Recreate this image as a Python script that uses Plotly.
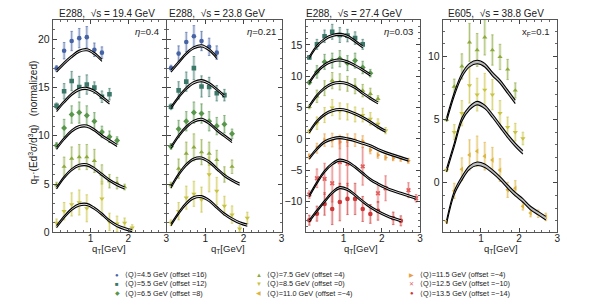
import plotly.graph_objects as go

# ---------------- data ----------------
QT_BINS = [0.1, 0.3, 0.5, 0.7, 0.9, 1.1, 1.3, 1.5, 1.7, 1.9, 2.1, 2.3, 2.5, 2.7, 2.9]
X_TICKS = [1, 2, 3]
Y_TICKS_P12 = [0, 5, 10, 15, 20]
Y_TICKS_P3 = [-10, -5, 0, 5, 10, 15]
Y_TICKS_P4 = [0, 5, 10]

PANEL_TITLES = ["E288,  √s = 19.4 GeV", "E288,  √s = 23.8 GeV",
                "E288,  √s = 27.4 GeV", "E605,  √s = 38.8 GeV"]
PANEL_LABELS = ["<i>η</i>=0.4", "<i>η</i>=0.21", "<i>η</i>=0.03", "x<sub>F</sub>=0.1"]

SERIES_KEYS = ["4.5", "5.5", "6.5", "7.5", "8.5", "11.0", "11.5", "12.5", "13.5"]
LEGEND_LABELS = ["⟨Q⟩=4.5 GeV (offset =16)", "⟨Q⟩=5.5 GeV (offset =12)",
                 "⟨Q⟩=6.5 GeV (offset =8)", "⟨Q⟩=7.5 GeV (offset =4)",
                 "⟨Q⟩=8.5 GeV (offset =0)", "⟨Q⟩=11.0 GeV (offset =−4)",
                 "⟨Q⟩=11.5 GeV (offset =−4)", "⟨Q⟩=12.5 GeV (offset =−10)",
                 "⟨Q⟩=13.5 GeV (offset =−14)"]

# Panel 1: E288 19.4 GeV
p1_q45 = [16.97, 18.8, 19.8, 20.1, 20.2, 18.9, 18.6]
p1_q45_err = [0.3, 0.85, 1.0, 1.0, 1.1, 0.7, 0.6]
p1_q55 = [13.1, 14.6, 15.66, 15.05, 15.3, 14.98, 14.04, 14.3]
p1_q55_err = [0.3, 0.8, 1.0, 1.1, 1.0, 0.6, 0.6, 0.6]
p1_q65 = [9.0, 10.8, 12.2, 12.4, 12.1, 11.5, 10.4, 9.9, 9.5]
p1_q65_err = [0.3, 0.9, 0.9, 1.1, 1.0, 0.9, 0.6, 0.6, 0.4]
p1_q75 = [4.9, 6.8, 7.65, 7.8, 7.8, 7.4, 6.0, 5.3, 5.1, 4.7]
p1_q75_err = [0.3, 1.0, 1.2, 1.3, 1.3, 1.2, 1.0, 0.7, 0.6, 0.3]
p1_q85 = [1.0, 2.2, 2.9, 3.1, 2.5, None, 3.5, 1.1, 0.9, 1.0, 0.5]
p1_q85_err = [0.4, 0.9, 1.2, 1.3, 1.4, 0, 1.8, 0.9, 0.8, 0.5, 0.3]
c1_q45 = [16.7, 17.5, 18.2, 18.75, 18.9, 18.5, 17.8]
c1_q55 = [12.6, 13.5, 14.3, 14.8, 14.9, 14.6, 14.0, 13.4]
c1_q65 = [8.7, 9.7, 10.5, 10.95, 11.0, 10.6, 10.0, 9.5, 9.0]
c1_q75 = [4.6, 5.7, 6.5, 6.95, 7.0, 6.6, 6.0, 5.4, 4.95, 4.6]
c1_q85 = [0.6, 1.6, 2.4, 2.85, 2.9, 2.5, 1.9, 1.2, 0.7, 0.4, 0.2]

# Panel 2: E288 23.8 GeV
p2_q45 = [17.0, 18.5, 19.7, 20.3, 19.8, 19.2, 18.6]
p2_q45_err = [0.3, 0.8, 1.0, 1.1, 1.0, 0.9, 0.7]
p2_q55 = [13.0, 14.7, 15.6, 17.0, 15.1, 15.05, 14.4, 14.2]
p2_q55_err = [0.3, 0.9, 1.0, 1.2, 1.1, 1.0, 0.8, 0.6]
p2_q65 = [8.9, 10.7, 11.5, 12.4, 12.3, 11.5, 11.0, 11.2, 10.2]
p2_q65_err = [0.3, 0.9, 1.0, 1.1, 1.0, 1.0, 0.9, 0.9, 0.5]
p2_q75 = [4.9, 6.6, 8.15, 8.8, 8.3, 8.15, 7.5, 6.0, 6.8]
p2_q75_err = [0.3, 1.0, 1.2, 1.4, 1.3, 1.2, 1.0, 0.8, 0.7]
p2_q85 = [1.0, 2.2, 3.6, 4.0, 3.4, 6.0, 4.3, 2.75, 1.85, 0.4, 1.5]
p2_q85_err = [0.3, 0.9, 1.2, 1.3, 1.3, 1.8, 1.4, 1.0, 0.9, 0.3, 0.6]
c2_q45 = [16.7, 17.6, 18.5, 19.1, 19.3, 18.9, 18.1]
c2_q55 = [12.9, 14.0, 14.9, 15.5, 15.7, 15.4, 14.8, 14.1]
c2_q65 = [8.8, 10.0, 10.9, 11.5, 11.7, 11.3, 10.6, 10.0, 9.4]
c2_q75 = [4.7, 6.0, 7.0, 7.6, 7.7, 7.3, 6.6, 5.9, 5.4, 5.0]
c2_q85 = [0.8, 2.0, 3.0, 3.6, 3.7, 3.3, 2.6, 1.9, 1.4, 1.0, 0.75]

# Panel 3: E288 27.4 GeV
p3_q55 = [13.0, 15.1, 16.4, 17.1, 16.6, 16.5, 16.1, 15.1]
p3_q55_err = [0.3, 0.8, 1.0, 1.2, 1.2, 1.0, 1.0, 0.8]
p3_q65 = [9.0, 10.7, 12.3, 12.5, 12.8, 12.1, 12.5, 11.4, 10.5]
p3_q65_err = [0.3, 1.0, 1.2, 1.2, 1.3, 1.2, 1.2, 1.0, 0.6]
p3_q75 = [5.1, 6.8, 8.1, 9.3, 9.1, 8.8, 8.4, 7.7, 7.2, 6.4]
p3_q75_err = [0.3, 1.0, 1.2, 1.3, 1.3, 1.2, 1.2, 1.0, 0.9, 0.5]
p3_q85 = [1.2, 2.5, 3.8, 5.0, 4.45, 4.3, 3.9, 3.8, 3.2, 2.4, 1.3]
p3_q85_err = [0.3, 1.0, 1.2, 1.3, 1.3, 1.3, 1.2, 1.1, 1.0, 0.8, 0.5]
p3_q115 = [-2.8, -1.5, -0.2, -0.2, -0.5, -0.2, -0.2, -0.4, -1.8, -2.6, -3.0, -3.1, -3.2, -3.5]
p3_q115_err = [0.4, 0.8, 1.0, 1.1, 1.1, 1.0, 1.0, 0.9, 0.6, 0.5, 0.4, 0.4, 0.4, 0.4]
p3_q125 = [-8.9, -6.3, -6.4, -7.1, -3.7, -4.0, None, -4.4, None, -8.7, -7.9, None, None, -8.2, -9.5]
p3_q125_err = [0.6, 1.5, 2.5, 3.0, 4.0, 3.5, 0, 3.0, 0, 1.5, 2.0, 0, 0, 1.2, 0.6]
p3_q135 = [-13.0, -11.95, -10.4, -11.2, -10.1, -9.6, -9.6, -11.2, -12.0, -11.5, None, -12.7, -13.1]
p3_q135_err = [0.8, 1.2, 1.8, 2.5, 3.0, 2.5, 2.5, 2.0, 1.5, 1.5, 0, 1.0, 0.8]
c3_q55 = [13.0, 14.8, 15.9, 16.5, 16.7, 16.4, 15.6, 14.7]
c3_q65 = [9.0, 10.7, 11.8, 12.4, 12.6, 12.3, 11.7, 11.0, 10.2]
c3_q75 = [5.2, 6.9, 8.1, 8.8, 9.0, 8.8, 8.2, 7.3, 6.5, 5.75]
c3_q85 = [1.1, 2.8, 3.9, 4.5, 4.7, 4.5, 4.0, 3.4, 2.7, 1.9, 1.2]
c3_q115 = [-3.1, -1.6, -0.5, 0.0, 0.2, 0.0, -0.3, -0.7, -1.1, -1.7, -2.2, -2.6, -3.0, -3.4]
c3_q125 = [-9.1, -7.0, -5.2, -4.0, -3.4, -3.7, -4.5, -5.5, -6.5, -7.2, -7.8, -8.3, -8.7, -9.1, -9.5]
c3_q135 = [-13.1, -11.5, -10.0, -8.6, -7.8, -8.1, -9.0, -10.0, -10.9, -11.6, -12.2, -12.7, -13.1]

# Panel 4: E605 38.8 GeV
p4_q75 = [5.0, 7.6, 9.2, 11.1, 10.5, 11.5, 10.5, 9.95, 8.96, 7.3]
p4_q75_err = [0.1, 0.6, 1.0, 1.5, 1.3, 1.4, 1.2, 1.0, 0.8, 0.6]
p4_q85 = [1.0, 4.0, 5.5, 7.7, 6.97, 7.35, 6.97, 5.5, 4.4, 4.0, 3.5]
p4_q85_err = [0.1, 0.6, 1.0, 1.4, 1.3, 1.3, 1.2, 1.0, 0.8, 0.7, 0.5]
p4_q110 = [-3.07, -0.64, 1.07, 2.2, 2.5, 2.1, 1.8, 1.0, -0.56, -0.43, -1.86, -2.4, -2.45, -2.7]
p4_q110_err = [0.1, 0.6, 0.9, 1.2, 1.2, 1.1, 1.0, 0.9, 0.6, 0.6, 0.3, 0.3, 0.3, 0.3]
c4_q75 = [5.0, 7.0, 8.5, 9.3, 9.55, 9.3, 8.6, 8.0, 7.2, 6.4]
c4_q85 = [1.0, 3.0, 5.0, 5.9, 6.3, 6.0, 5.3, 4.5, 3.7, 3.0, 2.4]
c4_q110 = [-3.1, -0.8, 0.35, 1.2, 1.5, 1.35, 0.9, 0.35, -0.3, -0.9, -1.4, -2.0, -2.4, -2.8]

# theory band half-widths per panel
BAND_HALF = [0.11, 0.11, 0.16, 0.14]

# ---------------- styles ----------------
COLORS = {"4.5": (70, 100, 165), "5.5": (60, 120, 105), "6.5": (88, 150, 75),
          "7.5": (140, 170, 60), "8.5": (200, 195, 65), "11.0": (220, 180, 65),
          "11.5": (232, 160, 70), "12.5": (225, 95, 95), "13.5": (205, 55, 55)}
SYMBOLS = {"4.5": "circle", "5.5": "square", "6.5": "diamond", "7.5": "triangle-up",
           "8.5": "triangle-down", "11.0": "triangle-left", "11.5": "triangle-right",
           "12.5": "x", "13.5": "circle"}
GLYPHS = {"4.5": "●", "5.5": "■", "6.5": "◆", "7.5": "▲", "8.5": "▼", "11.0": "◀",
          "11.5": "▶", "12.5": "✕", "13.5": "●"}
FONT = "Liberation Sans, Arial, sans-serif"

W, H = 598, 303
X_DOMAINS = [(45, 159), (160, 275), (299, 414), (437, 552)]
Y_DOMAIN = (12, 229)
Y_RANGES = [(0, 22.0), (0, 22.0), (-14.96, 19.03), (-3.93, 12.89)]

PANELS = [
    [("4.5", p1_q45, p1_q45_err, c1_q45), ("5.5", p1_q55, p1_q55_err, c1_q55),
     ("6.5", p1_q65, p1_q65_err, c1_q65), ("7.5", p1_q75, p1_q75_err, c1_q75),
     ("8.5", p1_q85, p1_q85_err, c1_q85)],
    [("4.5", p2_q45, p2_q45_err, c2_q45), ("5.5", p2_q55, p2_q55_err, c2_q55),
     ("6.5", p2_q65, p2_q65_err, c2_q65), ("7.5", p2_q75, p2_q75_err, c2_q75),
     ("8.5", p2_q85, p2_q85_err, c2_q85)],
    [("5.5", p3_q55, p3_q55_err, c3_q55), ("6.5", p3_q65, p3_q65_err, c3_q65),
     ("7.5", p3_q75, p3_q75_err, c3_q75), ("8.5", p3_q85, p3_q85_err, c3_q85),
     ("11.5", p3_q115, p3_q115_err, c3_q115), ("12.5", p3_q125, p3_q125_err, c3_q125),
     ("13.5", p3_q135, p3_q135_err, c3_q135)],
    [("7.5", p4_q75, p4_q75_err, c4_q75), ("8.5", p4_q85, p4_q85_err, c4_q85),
     ("11.0", p4_q110, p4_q110_err, c4_q110)],
]


def rgba(c, a):
    return f"rgba({c[0]},{c[1]},{c[2]},{a})"


fig = go.Figure()

for i, entries in enumerate(PANELS):
    k = i + 1
    xa, ya = f"x{k}", f"y{k}"
    for key, vals, errs, curve in entries:
        col = COLORS[key]
        xs = QT_BINS[:len(vals)]
        # wide faint error band
        fig.add_trace(go.Scatter(
            x=xs, y=vals, mode="markers", xaxis=xa, yaxis=ya, showlegend=False,
            marker=dict(size=1, opacity=0),
            error_y=dict(type="data", array=errs, color=rgba(col, 0.22),
                         thickness=3, width=0),
            hoverinfo="skip"))
        # points with thin error bars
        fig.add_trace(go.Scatter(
            x=xs, y=vals, mode="markers", xaxis=xa, yaxis=ya, showlegend=False,
            marker=dict(symbol=SYMBOLS[key], size=4.6 if key != "12.5" else 4.3,
                        color=rgba(col, 1), line=dict(width=0)),
            error_y=dict(type="data", array=errs, color=rgba(col, 0.75),
                         thickness=0.8, width=1.2),
            name=key))
    for key, vals, errs, curve in entries:
        xc = QT_BINS[:len(curve)]
        half = BAND_HALF[i]
        lo = [v - half for v in curve]
        hi = [v + half for v in curve]
        fig.add_trace(go.Scatter(
            x=xc, y=lo, mode="lines", xaxis=xa, yaxis=ya, showlegend=False,
            line=dict(color="black", width=1.1, shape="spline", smoothing=1.0),
            hoverinfo="skip"))
        fig.add_trace(go.Scatter(
            x=xc, y=hi, mode="lines", xaxis=xa, yaxis=ya, showlegend=False,
            fill="tonexty", fillcolor="#bdbdbd" if i == 3 else "#e8e8e8",
            line=dict(color="black", width=1.1, shape="spline", smoothing=1.0),
            hoverinfo="skip"))

layout = dict(
    width=W, height=H, margin=dict(l=0, r=0, t=0, b=0),
    paper_bgcolor="white", plot_bgcolor="white", showlegend=False,
    font=dict(family=FONT, size=10, color="#222"),
)
y_ticks = [Y_TICKS_P12, Y_TICKS_P12, Y_TICKS_P3, Y_TICKS_P4]
for i in range(4):
    k = i + 1
    x0, x1 = X_DOMAINS[i]
    layout[f"xaxis{k}"] = dict(
        domain=[x0 / W, x1 / W], range=[0, 3], anchor=f"y{k}",
        tickvals=X_TICKS, ticks="inside", ticklen=4, tickcolor="#444",
        showline=True, linecolor="#555", linewidth=1, mirror="ticks",
        showgrid=False, zeroline=False, tickfont=dict(size=10, color="#222"),
        ticklabelstandoff=-3,
        minor=dict(dtick=0.2, tick0=0, ticks="inside", ticklen=2, tickcolor="#666"),
    )
    layout[f"yaxis{k}"] = dict(
        domain=[1 - Y_DOMAIN[1] / H, 1 - Y_DOMAIN[0] / H], range=list(Y_RANGES[i]),
        anchor=f"x{k}", tickvals=y_ticks[i], ticks="inside", ticklen=4,
        tickcolor="#444", showline=True, linecolor="#555", linewidth=1,
        mirror="ticks", showgrid=False, zeroline=False,
        showticklabels=(i != 1), tickfont=dict(size=10.5, color="#222"),
        minor=dict(dtick=1, tick0=0, ticks="inside", ticklen=2, tickcolor="#666"),
    )
fig.update_layout(**layout)

ann = []
TITLE_X = [99, 210, 348, 490]
LABEL_RIGHT = [154, 271, 409, 547]
XTITLE_X = [102, 221, 355, 495]
for i in range(4):
    ann.append(dict(x=TITLE_X[i] / W, y=1 - 5.5 / H, xref="paper", yref="paper",
                    text=PANEL_TITLES[i], showarrow=False, xanchor="center",
                    yanchor="middle", font=dict(size=10, color="#222")))
    ann.append(dict(x=LABEL_RIGHT[i] / W, y=1 - 24 / H, xref="paper", yref="paper",
                    text=PANEL_LABELS[i], showarrow=False, xanchor="right",
                    yanchor="middle", font=dict(size=9.5, color="#222")))
    ann.append(dict(x=XTITLE_X[i] / W, y=1 - 246 / H, xref="paper", yref="paper",
                    text="q<sub>T</sub>[GeV]", showarrow=False, xanchor="center",
                    yanchor="middle", font=dict(size=9.5, color="#222")))
ann.append(dict(x=26 / W, y=1 - 117 / H, xref="paper", yref="paper", textangle=-90,
                text="q<sub>T</sub>·(Ed<sup>3</sup>σ/d<sup>3</sup>q)   (normalized)",
                showarrow=False, xanchor="center", yanchor="middle",
                font=dict(size=10, color="#222")))

LEG_COL_X = [110, 252, 406]
LEG_ROW_Y = [272, 281.5, 291]
for j, key in enumerate(SERIES_KEYS):
    c, r = j // 3, j % 3
    ann.append(dict(x=LEG_COL_X[c] / W, y=1 - LEG_ROW_Y[r] / H, xref="paper", yref="paper",
                    text=GLYPHS[key], showarrow=False, xanchor="center", yanchor="middle",
                    font=dict(size=6, color=rgba(COLORS[key], 1))))
    ann.append(dict(x=(LEG_COL_X[c] + 6) / W, y=1 - LEG_ROW_Y[r] / H, xref="paper",
                    yref="paper", text=LEGEND_LABELS[j], showarrow=False,
                    xanchor="left", yanchor="middle", font=dict(size=7.3, color="#222")))
fig.update_layout(annotations=ann)

fig.write_html("out.html")
